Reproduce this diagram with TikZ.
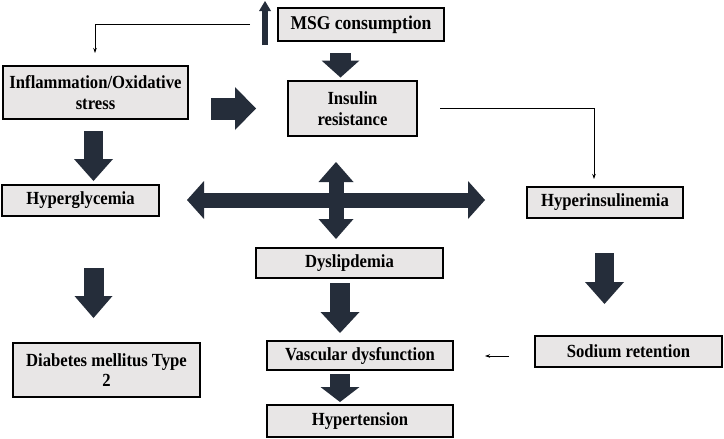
\documentclass[tikz,border=0pt]{standalone}
\usepackage{fontspec}
\setmainfont{Liberation Serif}[FakeStretch=0.9]
\usetikzlibrary{arrows.meta,shadows}
\definecolor{boxfill}{HTML}{E8E6E6}
\definecolor{arrowdark}{HTML}{252D3A}
\tikzset{
  flowbox/.style={draw=black, line width=1.1pt, fill=boxfill, inner sep=0pt,
    align=center, font=\bfseries\fontsize{18.5}{20.5}\selectfont,
    drop shadow={shadow xshift=1.2pt, shadow yshift=-1.2pt, fill=gray!60, opacity=1}},
  blk/.style={draw=arrowdark, line width=#1},
  blk/.default=20pt,
  thinarrow/.style={draw=black, line width=0.8pt, -{Stealth[length=5pt,width=3.5pt]}},
}
\begin{document}
\begin{tikzpicture}[x=1pt,y=-1pt]
\useasboundingbox (0,0) rectangle (724,439);
\fill[white] (0,0) rectangle (724,439);

% boxes
\node[flowbox, minimum width=166pt, minimum height=33pt, font=\bfseries\fontsize{19.5}{21}\selectfont] (msg) at (361,24.5) {MSG consumption};
\node[flowbox, minimum width=185pt, minimum height=53pt] (infl) at (95.5,92.5) {Inflammation/Oxidative\\stress};
\node[flowbox, minimum width=129pt, minimum height=55pt] (ins) at (352.5,108.5) {Insulin\\resistance};
\node[flowbox, minimum width=156pt, minimum height=31pt] (hypins) at (605,202.5) {Hyperinsulinemia};
\node[flowbox, minimum width=157pt, minimum height=31pt] (hypgly) at (80.5,200.5) {Hyperglycemia};
\node[flowbox, minimum width=187pt, minimum height=30pt] (dys) at (349.5,263) {Dyslipdemia};
\node[flowbox, minimum width=187pt, minimum height=54pt] (diab) at (106.5,370) {Diabetes mellitus Type\\2};
\node[flowbox, minimum width=186pt, minimum height=29pt] (vasc) at (360,355.5) {Vascular dysfunction};
\node[flowbox, minimum width=186pt, minimum height=32pt] (hyper) at (360,421) {Hypertension};
\node[flowbox, minimum width=187pt, minimum height=31pt] (sod) at (628.5,351.5) {Sodium retention};

% connector end points
\coordinate (upS) at (265,45);   \coordinate (upE) at (265,1);
\coordinate (a1S) at (340.5,53); \coordinate (a1E) at (340.5,77.5);
\coordinate (a2S) at (211,108.5); \coordinate (a2E) at (256,108.5);
\coordinate (a3S) at (93.5,131); \coordinate (a3E) at (93.5,181);
\coordinate (a4S) at (93.5,268); \coordinate (a4E) at (93.5,318);
\coordinate (a5S) at (340,283);  \coordinate (a5E) at (340,333);
\coordinate (a6S) at (340,374);  \coordinate (a6E) at (340,402);
\coordinate (a7S) at (604.5,253); \coordinate (a7E) at (604.5,304);
\coordinate (hL) at (187,200);   \coordinate (hR) at (485,200);
\coordinate (vT) at (336,162);   \coordinate (vB) at (336,239);
\coordinate (t1S) at (250,24);   \coordinate (t1E) at (95,53);
\coordinate (t2S) at (440,108);  \coordinate (t2E) at (594,179);
\coordinate (t3S) at (509,356);  \coordinate (t3E) at (485,356);

% block arrows
\draw[blk=6pt, -{Triangle[length=10pt,width=12pt,line width=0pt]}] (upS) -- (upE);
\draw[blk=21pt, -{Triangle[length=17pt,width=38pt,line width=0pt]}] (a1S) -- (a1E);
\draw[blk=22pt, -{Triangle[length=21pt,width=43pt,line width=0pt]}] (a2S) -- (a2E);
\draw[blk=19pt, -{Triangle[length=22pt,width=39pt,line width=0pt]}] (a3S) -- (a3E);
\draw[blk=20pt, -{Triangle[length=22pt,width=38pt,line width=0pt]}] (a4S) -- (a4E);
\draw[blk=20pt, -{Triangle[length=21pt,width=39pt,line width=0pt]}] (a5S) -- (a5E);
\draw[blk=20pt, -{Triangle[length=15pt,width=39pt,line width=0pt]}] (a6S) -- (a6E);
\draw[blk=19pt, -{Triangle[length=22pt,width=39pt,line width=0pt]}] (a7S) -- (a7E);
\draw[blk=15pt, {Triangle[length=17pt,width=38pt,line width=0pt]}-{Triangle[length=17pt,width=38pt,line width=0pt]}] (hL) -- (hR);
\draw[blk=15pt, {Triangle[length=20pt,width=35pt,line width=0pt]}-{Triangle[length=20pt,width=35pt,line width=0pt]}] (vT) -- (vB);

% thin connectors
\draw[thinarrow] (t1S) -| (t1E);
\draw[thinarrow] (t2S) -| (t2E);
\draw[thinarrow] (t3S) -- (t3E);
\end{tikzpicture}
\end{document}
